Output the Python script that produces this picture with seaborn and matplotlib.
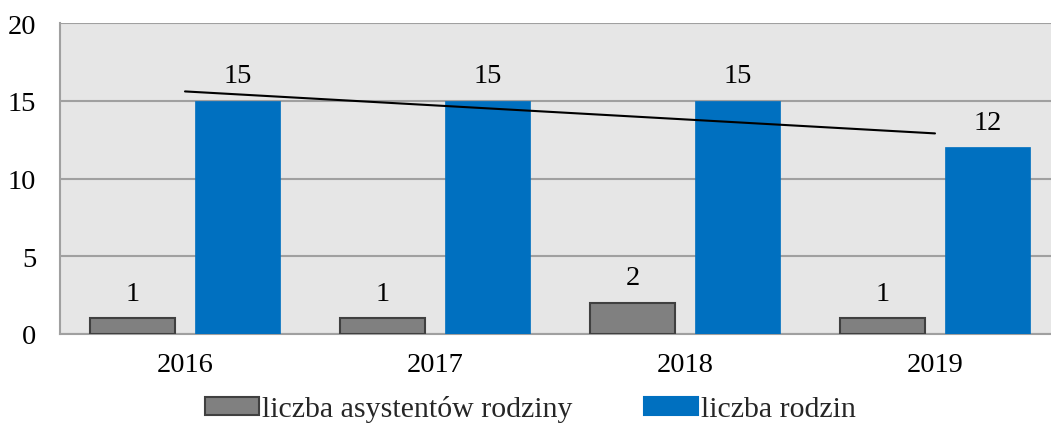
import numpy as np
import pandas as pd
import matplotlib
matplotlib.use("Agg")
import matplotlib.pyplot as plt
import seaborn as sns

years = ["2016", "2017", "2018", "2019"]
asystenci = [1, 1, 2, 1]
rodziny = [15, 15, 15, 12]
series_names = ["liczba asystentów rodziny", "liczba rodzin"]
colors = ["#808080", "#0070c0"]
edgecolors = ["#404040", "#0070c0"]
yticks = [0, 5, 10, 15, 20]

df = pd.DataFrame({
    "rok": years * 2,
    "wartosc": asystenci + rodziny,
    "seria": [series_names[0]] * len(years) + [series_names[1]] * len(years),
})

sns.set_theme(style="white")
plt.rcParams["font.family"] = ["Liberation Serif", "DejaVu Serif"]

fig = plt.figure(figsize=(10.51, 4.27), dpi=100)
ax = fig.add_axes([60 / 1051, 1 - 335 / 427, 1 - 60 / 1051, (335 - 24) / 427])
ax.set_facecolor("#e6e6e6")

sns.barplot(data=df, x="rok", y="wartosc", hue="seria", palette=colors,
            width=0.84, gap=0.195, ax=ax, legend=False, saturation=1)

for cont, ec, lw in zip(ax.containers, edgecolors, [1.5, 0.5]):
    for p in cont:
        p.set_edgecolor(ec)
        p.set_linewidth(lw)
        p.set_zorder(3)
    ax.bar_label(cont, labels=[str(int(v)) for v in cont.datavalues],
                 padding=9, fontsize=20.5, color="black")

# linear trend of "liczba rodzin"
xs = np.arange(len(years))
coef = np.polyfit(xs, rodziny, 1)
ax.plot(xs, np.polyval(coef, xs), color="black", linewidth=1.5, zorder=4)

ax.set_ylim(0, 20)
ax.set_yticks(yticks)
ax.set_xlim(-0.5, 3.5 - 9 / 250)
ax.yaxis.grid(True, color="#a0a0a0", linewidth=1.5, zorder=0)
ax.set_axisbelow(True)
for s in ["top", "right"]:
    ax.spines[s].set_visible(False)
for s in ["left", "bottom"]:
    ax.spines[s].set_color("#a0a0a0")
    ax.spines[s].set_linewidth(1.5)
ax.tick_params(axis="both", length=0, labelsize=20.5, colors="black")
ax.tick_params(axis="y", pad=17)
ax.tick_params(axis="x", pad=13)
ax.set_xlabel("")
ax.set_ylabel("")

handles = [plt.Rectangle((0, 0), 1, 1, facecolor=c, edgecolor=e, linewidth=1.5)
           for c, e in zip(colors, edgecolors)]
fig.legend(handles, series_names, loc="center", bbox_to_anchor=(0.505, 1 - 410 / 427),
           ncol=2, frameon=False, fontsize=21.5, handlelength=1.8, handleheight=0.55,
           handletextpad=0.1, columnspacing=2.4, borderpad=0.2)

fig.savefig("out.png", dpi=100)
